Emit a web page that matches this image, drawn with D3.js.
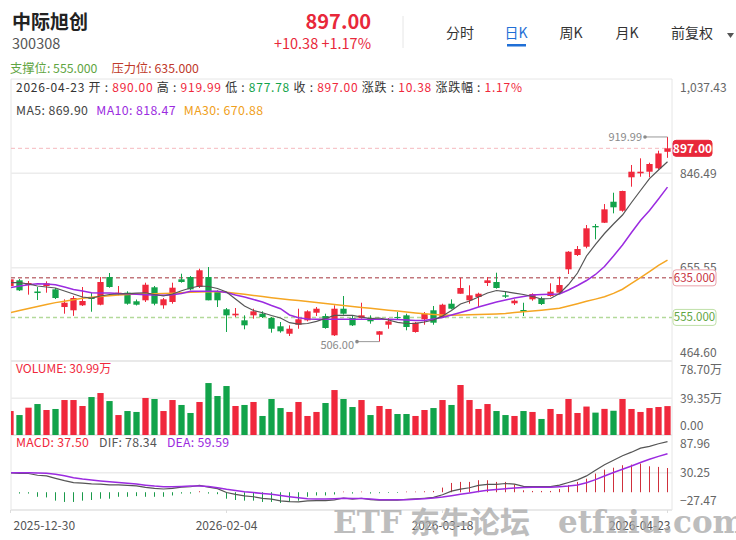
<!DOCTYPE html>
<html>
<head>
<meta charset="utf-8">
<script src="https://cdn.jsdelivr.net/npm/d3@7"></script>
<style>
	body { margin: 0; background: #fff; }
	svg { display: block; font-family: "Noto Sans CJK SC", "Noto Sans", sans-serif; }
</style>
</head>
<body>
<div class="kline"></div>
<script>
// Chart size
const width = 736;
const height = 540;

// Data
const dates = ["2025-12-30","2025-12-31","2026-01-05","2026-01-06","2026-01-07","2026-01-08","2026-01-09","2026-01-12","2026-01-13","2026-01-14",
	"2026-01-15","2026-01-16","2026-01-19","2026-01-20","2026-01-21","2026-01-22","2026-01-23","2026-01-26","2026-01-27","2026-01-28",
	"2026-01-29","2026-01-30","2026-02-02","2026-02-03","2026-02-04","2026-02-05","2026-02-06","2026-02-09","2026-02-10","2026-02-11",
	"2026-02-12","2026-02-13","2026-02-24","2026-02-25","2026-02-26","2026-02-27","2026-03-02","2026-03-03","2026-03-04","2026-03-05",
	"2026-03-06","2026-03-09","2026-03-10","2026-03-11","2026-03-12","2026-03-13","2026-03-16","2026-03-17","2026-03-18","2026-03-19",
	"2026-03-20","2026-03-23","2026-03-24","2026-03-25","2026-03-26","2026-03-27","2026-03-30","2026-03-31","2026-04-01","2026-04-02",
	"2026-04-03","2026-04-07","2026-04-08","2026-04-09","2026-04-10","2026-04-13","2026-04-14","2026-04-15","2026-04-16","2026-04-17",
	"2026-04-20","2026-04-21","2026-04-22","2026-04-23"];

const open = [618.5, 630.0, 620.5, 607.4, 618.5, 611.8, 576.0, 569.4, 579.5, 595.6,
	580.7, 636.7, 602.3, 605.0, 587.6, 589.6, 615.9, 579.5, 586.2, 632.0,
	636.7, 616.5, 636.7, 607.8, 571.4, 559.2, 549.1, 559.2, 562.5, 553.8,
	537.0, 522.0, 540.2, 549.1, 564.5, 557.8, 518.8, 572.6, 553.8, 553.8,
	553.8, 520.0, 540.2, 555.8, 559.2, 525.5, 551.2, 569.4, 555.8, 582.7,
	602.9, 589.6, 596.3, 624.6, 626.6, 599.7, 583.5, 570.0, 591.6, 593.6,
	598.3, 605.0, 652.3, 681.2, 698.0, 739.9, 746.5, 789.0, 770.8, 838.4,
	846.5, 849.7, 856.6, 890.00];
const high = [635.7, 632.7, 628.6, 616.5, 628.0, 614.5, 591.6, 598.3, 616.5, 604.3,
	636.7, 644.8, 618.5, 607.8, 591.2, 625.2, 618.5, 594.2, 625.2, 643.4,
	638.7, 653.5, 656.9, 609.8, 574.0, 574.0, 559.2, 572.6, 567.3, 555.8,
	545.7, 539.0, 572.6, 569.4, 576.0, 562.5, 579.5, 598.3, 559.2, 584.7,
	559.2, 527.5, 553.8, 565.9, 562.5, 545.7, 565.9, 578.1, 582.7, 591.6,
	634.7, 619.9, 605.0, 636.7, 645.4, 606.4, 591.6, 584.7, 603.7, 596.9,
	624.0, 637.3, 689.0, 699.4, 741.9, 743.9, 784.3, 807.2, 811.3, 863.3,
	876.8, 867.9, 892.2, 919.99];
const low = [614.5, 608.4, 601.0, 590.2, 605.0, 592.2, 562.5, 558.1, 578.1, 566.5,
	579.5, 615.0, 599.7, 580.7, 579.1, 586.2, 579.5, 572.6, 582.7, 625.2,
	609.8, 614.5, 589.6, 576.0, 525.5, 555.8, 530.9, 552.4, 553.8, 524.1,
	524.1, 517.4, 532.1, 547.1, 557.8, 532.1, 517.4, 560.5, 537.6, 552.4,
	542.3, 506.0, 532.1, 551.2, 528.9, 524.1, 540.2, 540.2, 553.8, 571.4,
	602.9, 582.7, 576.0, 618.5, 613.1, 594.2, 580.1, 557.8, 588.8, 580.1,
	596.9, 603.7, 642.8, 679.2, 694.8, 713.0, 745.9, 765.5, 768.8, 819.4,
	839.6, 838.4, 854.6, 877.78];
const close = [632.0, 609.8, 624.6, 604.3, 624.0, 594.2, 584.7, 594.2, 588.2, 592.2,
	626.6, 616.5, 605.0, 582.7, 580.7, 621.1, 582.7, 591.6, 615.1, 626.6,
	611.8, 650.3, 589.6, 589.6, 559.2, 562.5, 539.0, 567.3, 555.8, 532.1,
	526.9, 532.1, 551.2, 567.3, 572.6, 533.6, 572.6, 562.5, 539.0, 559.2,
	547.1, 526.9, 547.1, 553.8, 535.6, 544.3, 562.5, 544.3, 580.7, 572.6,
	614.5, 599.7, 602.9, 630.0, 614.5, 596.9, 588.8, 566.5, 602.3, 582.1,
	607.0, 620.5, 687.9, 693.3, 735.2, 737.2, 773.6, 777.7, 810.7, 849.7,
	849.7, 865.3, 886.62, 897.00];

const ma5 = [625.2, 625.2, 622.6, 618.5, 616.5, 614.5, 608.4, 602.3, 596.3, 594.2,
	598.3, 601.3, 602.3, 603.3, 604.3, 604.9, 601.3, 598.3, 602.3, 609.0,
	614.5, 618.5, 617.5, 613.5, 606.4, 592.2, 578.1, 568.9, 564.5, 558.8,
	553.8, 544.3, 541.6, 542.7, 547.1, 552.8, 559.2, 559.2, 559.2, 555.8,
	552.4, 553.8, 549.7, 545.1, 542.7, 543.1, 545.7, 549.7, 557.8, 568.9,
	582.1, 588.2, 596.3, 604.3, 609.4, 607.0, 604.3, 601.3, 597.3, 592.2,
	593.2, 603.3, 621.5, 644.8, 679.2, 702.5, 724.7, 743.9, 762.1, 787.4,
	811.7, 835.9, 853.1, 869.90];
const ma10 = [615.5, 618.5, 621.1, 623.1, 622.6, 621.1, 616.5, 611.4, 608.4, 604.9,
	604.3, 604.3, 603.3, 602.9, 601.7, 600.9, 600.3, 599.7, 600.9, 603.3,
	607.8, 607.8, 607.8, 607.8, 605.4, 600.3, 596.3, 591.2, 586.2, 579.1,
	572.6, 559.9, 554.4, 551.8, 551.2, 551.2, 551.2, 551.2, 551.2, 551.2,
	551.2, 551.2, 551.2, 550.8, 549.7, 548.7, 548.7, 551.8, 554.8, 559.9,
	564.9, 570.0, 576.0, 581.1, 586.2, 590.2, 594.2, 597.3, 600.3, 601.3,
	601.9, 602.3, 610.4, 619.5, 629.6, 641.8, 658.0, 679.2, 701.4, 726.7,
	751.0, 771.2, 794.5, 818.47];
const ma30 = [564.9, 568.9, 573.0, 577.0, 580.9, 584.9, 587.8, 590.6, 593.6, 595.6,
	597.3, 598.7, 600.3, 601.3, 602.3, 602.9, 602.9, 603.3, 603.9, 604.8,
	605.8, 606.4, 607.0, 607.4, 606.0, 603.7, 601.7, 599.5, 597.3, 595.0,
	592.8, 590.8, 589.0, 587.2, 585.3, 583.3, 581.1, 579.1, 577.0, 575.0,
	573.4, 571.6, 569.7, 567.9, 565.9, 563.9, 562.3, 561.1, 560.0, 559.2,
	559.9, 560.3, 560.9, 561.5, 561.9, 562.7, 564.7, 566.3, 567.9, 569.6,
	571.4, 573.4, 578.1, 582.7, 587.6, 592.0, 596.7, 603.7, 612.0, 623.6,
	635.7, 647.4, 660.4, 670.88];

// Volume in 万
const volume = [25.7, 21.4, 29.3, 33.2, 26.8, 27.9, 37.5, 37.5, 31.1, 40.7,
	45.0, 36.4, 21.4, 25.7, 24.7, 39.7, 38.6, 25.7, 37.5, 32.2,
	23.6, 35.4, 55.7, 41.8, 52.5, 31.1, 32.2, 35.4, 20.4, 38.6,
	28.9, 24.7, 35.4, 20.4, 24.7, 34.3, 48.2, 38.6, 30.0, 37.5,
	21.4, 31.1, 27.9, 22.5, 22.5, 20.4, 26.8, 28.9, 37.5, 32.2,
	53.6, 37.5, 27.9, 33.2, 25.7, 21.4, 20.4, 25.7, 24.7, 17.2,
	27.9, 22.5, 38.6, 23.6, 30.5, 24.0, 28.0, 26.0, 38.6, 27.9,
	24.7, 28.9, 30.0, 30.99];

const macd = [-1, -2, -2, -7, -8, -13, -15, -15, -13, -12,
	-10, -10, -7, -7, -6, -7, -7, -7, -5, -2,
	-2, 1.5, -2, -3, -10, -12, -13, -13, -15, -15,
	-16.5, -15, -13, -7, -5, -5, -3.5, 1, -2, 1,
	-2, -1.5, -1, -1, 1, 1, 1.5, 2, 7.2, 14.4,
	16, 16, 18.6, 18.6, 16, 16, 12, 3, 2, 2,
	2, 5, 11, 16, 21, 28.9, 35, 38, 41.8, 42.8,
	44.4, 40.2, 39.2, 37.50];
const dif = [29.8, 29.2, 29.0, 26.3, 25.3, 21.5, 18.0, 15.0, 14.0, 13.0,
	12.5, 11.3, 11.5, 10.5, 9.8, 7.5, 6.0, 5.0, 6.0, 8.0,
	8.5, 10.5, 8.0, 5.5, -0.4, -3.2, -5.6, -7.0, -9.5, -10.7,
	-13.3, -14.4, -15.0, -13.5, -13.0, -13.0, -11.8, -8.9, -10.6, -9.3,
	-11.4, -12.3, -12.3, -12.3, -11.0, -10.3, -9.3, -8.0, -3.9, 1.7,
	4.8, 7.0, 10.5, 12.3, 12.3, 13.5, 12.5, 9.0, 8.7, 8.7,
	8.8, 11.1, 15.1, 19.2, 25.3, 34.0, 42.6, 49.5, 56.4, 62.0,
	68.2, 71.1, 75.1, 78.34];
const dea = [30.3, 30.2, 30.0, 29.8, 29.3, 28.0, 25.5, 22.5, 20.5, 19.0,
	17.5, 16.3, 15.0, 14.0, 12.8, 11.0, 9.5, 8.5, 8.5, 9.0,
	9.5, 9.7, 9.0, 7.0, 4.6, 2.8, 0.9, -0.5, -2.0, -3.2,
	-5.0, -6.9, -8.5, -10.0, -10.5, -10.5, -10.0, -9.4, -9.6, -9.8,
	-10.4, -11.5, -11.8, -11.8, -11.5, -10.8, -10.0, -9.0, -7.5, -5.5,
	-3.2, -1.0, 1.2, 3.0, 4.3, 5.5, 6.5, 7.5, 7.7, 7.7,
	7.8, 8.6, 9.6, 11.2, 14.8, 19.5, 25.1, 30.5, 35.5, 40.6,
	46.0, 51.0, 55.5, 59.59];

// Axis ticks
const priceTicks = [1037.43, 846.49, 655.55, 464.60];
const volumeTicks = [78.70, 39.35, 0];
const macdTicks = [87.96, 30.25, -27.47];
const dateTicks = ["2025-12-30", "2026-02-04", "2026-03-18", "2026-04-23"];
const supportLevel = 555;
const pressureLevel = 635;

// Colours
const upColor = "#f0283c";
const downColor = "#12a34a";
const gridColor = "#ececec";

// Panels
const plotLeft = 11, plotRight = 672;
const pricePanel = { top: 79, bottom: 361 };
const volPanel = { top: 361, bottom: 435 };
const macdPanel = { top: 435, bottom: 510 };

const svg = d3.select(".kline").append("svg")
	.attr("width", width)
	.attr("height", height);

const candles = dates.map((d, i) => ({
	date: d, open: open[i], high: high[i], low: low[i], close: close[i],
	vol: volume[i], macd: macd[i], dif: dif[i], dea: dea[i],
	ma5: ma5[i], ma10: ma10[i], ma30: ma30[i]
}));
const isUp = d => d.close >= d.open;

// Scales
const x = d3.scaleBand()
	.domain(dates)
	.range([6, 672])
	.paddingInner(0.3)
	.paddingOuter(0.15);
const cx = d => x(d) + x.bandwidth() / 2;

const yPrice = d3.scaleLinear().domain([464.60, 1037.43]).range([362.1, 78.9]);
const yVol = d3.scaleLinear().domain([0, 78.70]).range([435, 361.6]);
const yMacd = d3.scaleLinear().domain([-27.47, 87.96]).range([510, 435.4]);

// Clip for the plot area
svg.append("clipPath").attr("id", "plotClip")
	.append("rect").attr("x", plotLeft).attr("y", pricePanel.top)
	.attr("width", plotRight - plotLeft).attr("height", macdPanel.bottom - pricePanel.top);

// ---------- Header ----------
const header = svg.append("g");
header.append("text").attr("x", 12).attr("y", 29)
	.attr("font-size", 19).attr("font-weight", "bold").attr("fill", "#222")
	.text("中际旭创");
header.append("text").attr("x", 12).attr("y", 49)
	.attr("font-size", 14.5).attr("fill", "#555")
	.text("300308");
header.append("text").attr("x", 371).attr("y", 29).attr("text-anchor", "end")
	.attr("font-size", 20).attr("font-weight", "bold").attr("fill", "#e8283a")
	.text("897.00");
header.append("text").attr("x", 371).attr("y", 49).attr("text-anchor", "end")
	.attr("font-size", 14.5).attr("fill", "#e8283a")
	.text("+10.38 +1.17%");
header.append("line").attr("x1", 403).attr("x2", 403).attr("y1", 16).attr("y2", 48)
	.attr("stroke", "#e6e6e6");

const tabs = [["分时", 460], ["日K", 516], ["周K", 571], ["月K", 627], ["前复权", 692]];
header.selectAll("text.tab").data(tabs).join("text")
	.attr("class", "tab")
	.attr("x", d => d[1]).attr("y", 38).attr("text-anchor", "middle")
	.attr("font-size", 14).attr("fill", d => d[0] === "日K" ? "#1f6fd6" : "#333")
	.text(d => d[0]);
header.append("path").attr("d", "M727,33 L734,33 L730.5,38 Z").attr("fill", "#555");
header.append("rect").attr("x", 507).attr("y", 44).attr("width", 19).attr("height", 2.5)
	.attr("fill", "#1f6fd6");

const levels = header.append("text").attr("x", 10).attr("y", 73).attr("font-size", 12.3);
levels.append("tspan").attr("fill", "#5fa542").text("支撑位: 555.000");
levels.append("tspan").attr("dx", 14).attr("fill", "#c0392b").text("压力位: 635.000");

// ---------- Panel frames and grid ----------
const grid = svg.append("g");
grid.append("line").attr("x1", plotLeft).attr("x2", plotRight)
	.attr("y1", pricePanel.top).attr("y2", pricePanel.top).attr("stroke", "#e6e6e6");
[volPanel.top, macdPanel.top].forEach(y => {
	grid.append("line").attr("x1", plotLeft).attr("x2", plotRight)
		.attr("y1", y).attr("y2", y).attr("stroke", "#e9e9e9").attr("stroke-width", 2);
});
grid.append("line").attr("x1", plotLeft).attr("x2", plotRight)
	.attr("y1", macdPanel.bottom).attr("y2", macdPanel.bottom).attr("stroke", "#e2e2e2").attr("stroke-width", 1.5);
[plotLeft, plotRight].forEach(xv => {
	grid.append("line").attr("x1", xv).attr("x2", xv)
		.attr("y1", pricePanel.top).attr("y2", macdPanel.bottom).attr("stroke", "#e6e6e6");
});
[846.49, 655.55].forEach(v => {
	grid.append("line").attr("x1", plotLeft).attr("x2", plotRight)
		.attr("y1", yPrice(v)).attr("y2", yPrice(v)).attr("stroke", gridColor).attr("stroke-width", 1.5);
});
grid.append("line").attr("x1", plotLeft).attr("x2", plotRight)
	.attr("y1", yVol(39.35)).attr("y2", yVol(39.35)).attr("stroke", gridColor).attr("stroke-width", 1.5);
grid.append("line").attr("x1", plotLeft).attr("x2", plotRight)
	.attr("y1", yMacd(30.25)).attr("y2", yMacd(30.25)).attr("stroke", gridColor).attr("stroke-width", 1.5);

// Info lines (OHLC of the last day, moving averages)
const info = svg.append("text").attr("x", 16).attr("y", 92).attr("font-size", 12).attr("fill", "#333")
	.attr("textLength", 506).attr("lengthAdjust", "spacing");
const infoParts = [
	["2026-04-23 ", "#333"], ["开 : ", "#333"], ["890.00", upColor], [" 高 : ", "#333"], ["919.99", upColor],
	[" 低 : ", "#333"], ["877.78", downColor], [" 收 : ", "#333"], ["897.00", upColor],
	[" 涨跌 : ", "#333"], ["10.38", upColor], [" 涨跌幅 : ", "#333"], ["1.17%", upColor]
];
info.selectAll("tspan").data(infoParts).join("tspan")
	.attr("fill", d => d[1]).attr("xml:space", "preserve").text(d => d[0]);

const maInfo = svg.append("text").attr("x", 16).attr("y", 115).attr("font-size", 12.3)
	.attr("textLength", 247).attr("lengthAdjust", "spacing");
maInfo.append("tspan").attr("fill", "#444").text("MA5: 869.90");
maInfo.append("tspan").attr("dx", 8).attr("fill", "#9b2be0").text("MA10: 818.47");
maInfo.append("tspan").attr("dx", 8).attr("fill", "#f0a020").text("MA30: 670.88");

// Support / pressure / last price dashed lines
const refLines = svg.append("g");
refLines.append("line").attr("x1", plotLeft).attr("x2", plotRight)
	.attr("y1", yPrice(pressureLevel)).attr("y2", yPrice(pressureLevel))
	.attr("stroke", "#c2777c").attr("stroke-width", 1.5).attr("stroke-dasharray", "4,3");
refLines.append("line").attr("x1", plotLeft).attr("x2", plotRight)
	.attr("y1", yPrice(supportLevel)).attr("y2", yPrice(supportLevel))
	.attr("stroke", "#b3d99a").attr("stroke-width", 1.5).attr("stroke-dasharray", "4,3");
refLines.append("line").attr("x1", plotLeft).attr("x2", plotRight)
	.attr("y1", yPrice(897)).attr("y2", yPrice(897))
	.attr("stroke", "#f5b9bf").attr("stroke-width", 1).attr("stroke-dasharray", "4,3");

const plot = svg.append("g").attr("clip-path", "url(#plotClip)");

// Candles
const candleG = plot.append("g");
candleG.selectAll("line").data(candles).join("line")
	.attr("x1", d => cx(d.date)).attr("x2", d => cx(d.date))
	.attr("y1", d => yPrice(d.high)).attr("y2", d => yPrice(d.low))
	.attr("stroke", d => isUp(d) ? upColor : downColor).attr("stroke-width", 1);
candleG.selectAll("rect").data(candles).join("rect")
	.attr("x", d => x(d.date))
	.attr("width", x.bandwidth())
	.attr("y", d => yPrice(Math.max(d.open, d.close)))
	.attr("height", d => Math.max(1, Math.abs(yPrice(d.open) - yPrice(d.close))))
	.attr("fill", d => isUp(d) ? upColor : downColor);

// Moving averages
const maSeries = [["ma30", "#f5a623", 1.5], ["ma10", "#9b2be0", 1.5], ["ma5", "#555", 1.2]];
maSeries.forEach(([key, color, w]) => {
	plot.append("path")
		.datum(candles)
		.attr("fill", "none").attr("stroke", color).attr("stroke-width", w)
		.attr("d", d3.line().x(d => cx(d.date)).y(d => yPrice(d[key])));
});

// High / low markers
const hi = candles[73], lo = candles[41];
const marks = svg.append("g").attr("fill", "#8a8a8a").attr("font-size", 11);
marks.append("line").attr("x1", 645).attr("x2", cx(hi.date))
	.attr("y1", yPrice(hi.high)).attr("y2", yPrice(hi.high)).attr("stroke", "#999");
marks.append("circle").attr("cx", 645).attr("cy", yPrice(hi.high)).attr("r", 1.8);
marks.append("text").attr("x", 642).attr("y", yPrice(hi.high) + 4).attr("text-anchor", "end").text("919.99");
marks.append("line").attr("x1", 357).attr("x2", cx(lo.date))
	.attr("y1", yPrice(lo.low)).attr("y2", yPrice(lo.low)).attr("stroke", "#999");
marks.append("circle").attr("cx", 357).attr("cy", yPrice(lo.low)).attr("r", 1.8);
marks.append("text").attr("x", 354).attr("y", yPrice(lo.low) + 7).attr("text-anchor", "end").text("506.00");

// ---------- Volume ----------
plot.append("g").selectAll("rect").data(candles).join("rect")
	.attr("x", d => x(d.date))
	.attr("width", x.bandwidth())
	.attr("y", d => yVol(d.vol))
	.attr("height", d => yVol(0) - yVol(d.vol))
	.attr("fill", d => isUp(d) ? upColor : downColor);

svg.append("text").attr("x", 16).attr("y", 373).attr("font-size", 12).attr("fill", upColor)
	.text("VOLUME: 30.99万");

// ---------- MACD ----------
plot.append("g").selectAll("line").data(candles).join("line")
	.attr("x1", d => cx(d.date)).attr("x2", d => cx(d.date))
	.attr("y1", yMacd(0)).attr("y2", d => yMacd(d.macd))
	.attr("stroke", d => d.macd >= 0 ? "#d0303c" : "#1a9a4a").attr("stroke-width", 1);
plot.append("path").datum(candles)
	.attr("fill", "none").attr("stroke", "#555").attr("stroke-width", 1.2)
	.attr("d", d3.line().x(d => cx(d.date)).y(d => yMacd(d.dif)));
plot.append("path").datum(candles)
	.attr("fill", "none").attr("stroke", "#9b2be0").attr("stroke-width", 1.5)
	.attr("d", d3.line().x(d => cx(d.date)).y(d => yMacd(d.dea)));

const macdInfo = svg.append("text").attr("x", 16).attr("y", 447).attr("font-size", 12.3)
	.attr("textLength", 213).attr("lengthAdjust", "spacing");
macdInfo.append("tspan").attr("fill", upColor).text("MACD: 37.50");
macdInfo.append("tspan").attr("dx", 10).attr("fill", "#555").text("DIF: 78.34");
macdInfo.append("tspan").attr("dx", 10).attr("fill", "#9b2be0").text("DEA: 59.59");

// ---------- Right axes ----------
function rightAxis(scale, ticks, fmt, panel) {
	const g = svg.append("g")
		.attr("transform", `translate(${plotRight + 8}, 0)`)
		.call(d3.axisRight(scale).tickValues(ticks).tickFormat(fmt).tickSize(0))
		.call(g => g.select(".domain").remove());
	g.selectAll("text")
		.attr("x", 0).attr("dy", "0.35em")
		.attr("fill", "#666").attr("font-size", 12)
		.attr("font-family", "\"Noto Sans CJK SC\", \"Noto Sans\", sans-serif");
	// keep end labels inside their panel
	g.selectAll(".tick").attr("transform", d => {
		const y = Math.min(Math.max(scale(d), panel.top + 8.5), panel.bottom - 9.5);
		return `translate(0, ${y})`;
	});
}
rightAxis(yPrice, priceTicks, d3.format(",.2f"), { top: 79, bottom: 362 });
rightAxis(yVol, volumeTicks, d => d === 0 ? "0.00" : d3.format(".2f")(d) + "万", { top: 361.6, bottom: 435 });
rightAxis(yMacd, macdTicks, d3.format(".2f"), { top: 435.4, bottom: 510 });

// Level tags on the right
function tag(y, label, stroke, fill, textColor, w, bold) {
	const g = svg.append("g").attr("transform", `translate(${plotRight + 1}, ${y})`);
	g.append("rect").attr("x", 0).attr("y", -8).attr("width", w).attr("height", 16).attr("rx", 3)
		.attr("fill", fill).attr("stroke", stroke);
	g.append("text").attr("x", w / 2).attr("y", 0).attr("dy", "0.35em").attr("text-anchor", "middle")
		.attr("font-size", bold ? 12 : 11.5).attr("font-weight", bold ? "bold" : "normal")
		.attr("fill", textColor).text(label);
}
tag(yPrice(pressureLevel), "635.000", "#eaa3aa", "#fff", "#c8323e", 43, false);
tag(yPrice(supportLevel), "555.000", "#bfe0a8", "#fff", "#5fa542", 43, false);
tag(yPrice(897), "897.00", "#e8283a", "#e8283a", "#fff", 39, true);

// ---------- Date axis ----------
const xAxis = svg.append("g")
	.attr("transform", `translate(0, ${macdPanel.bottom})`)
	.call(d3.axisBottom(x).tickValues(dateTicks).tickSize(3))
	.call(g => g.select(".domain").remove());
xAxis.selectAll("line").attr("stroke", "#ddd");
xAxis.selectAll("text")
	.attr("y", 11).attr("dy", "0.71em")
	.attr("fill", "#555").attr("font-size", 12)
	.attr("font-family", "\"Noto Sans CJK SC\", \"Noto Sans\", sans-serif")
	.attr("text-anchor", (d, i) => i === 0 ? "start" : (i === dateTicks.length - 1 ? "end" : "middle"))
	.attr("dx", (d, i) => i === 0 ? 3 : (i === dateTicks.length - 1 ? 3 : 0));

// Watermark
const wm = svg.append("g").attr("fill", "#a8a8a8").attr("opacity", 0.75)
	.attr("font-family", "\"DejaVu Serif\", serif").attr("font-weight", "bold");
wm.append("text").attr("x", 333).attr("y", 533).attr("font-size", 31).text("ETF");
wm.append("text").attr("x", 410).attr("y", 533).attr("font-size", 30)
	.attr("font-family", "\"Noto Sans CJK SC\", sans-serif").text("东牛论坛");
wm.append("text").attr("x", 558).attr("y", 533).attr("font-size", 31).text("etfniu.com");
</script>
</body>
</html>
